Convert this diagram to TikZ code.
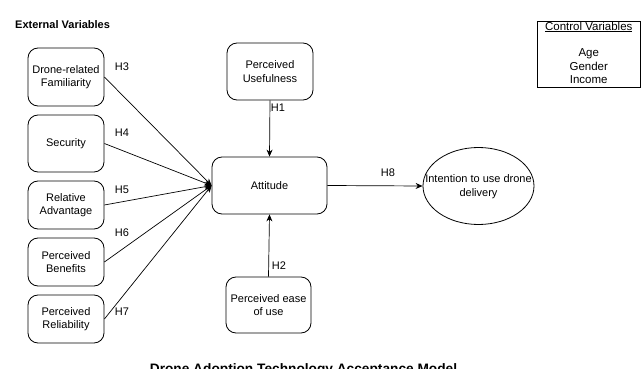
\documentclass[tikz,border=0pt]{standalone}
\usepackage{fontspec}
\setmainfont{Liberation Sans}
\usetikzlibrary{shapes.geometric,arrows.meta}
\begin{document}
\begin{tikzpicture}[x=1pt,y=-1pt,
  box/.style={draw, rounded corners=10pt, line width=0.8pt, align=center,
    font=\fontsize{11}{13.5}\selectfont, inner sep=0pt},
  lbl/.style={font=\fontsize{11}{13}\selectfont, inner sep=0pt},
  arr/.style={line width=0.7pt, -{Stealth[length=7pt,width=6pt]}}]
\useasboundingbox (0,0) rectangle (641,369);

\node[anchor=west, font=\bfseries\fontsize{11}{13}\selectfont, inner sep=0pt] (ext) at (15,25) {External Variables};

\node[box, minimum width=76pt, minimum height=58pt] (drf) at (66,77) {Drone-related\\Familiarity};
\node[box, minimum width=76pt, minimum height=57pt] (sec) at (66,143.5) {Security};
\node[box, minimum width=76pt, minimum height=48pt] (ra) at (66,205) {Relative\\Advantage};
\node[box, minimum width=76pt, minimum height=48pt] (pb) at (66,262) {Perceived\\Benefits};
\node[box, minimum width=76pt, minimum height=48pt] (pr) at (66,319) {Perceived\\Reliability};

\node[box, minimum width=86pt, minimum height=57pt] (pu) at (270,71.5) {Perceived\\Usefulness};
\node[box, minimum width=115pt, minimum height=57pt] (att) at (269.5,185.5) {Attitude};
\node[box, minimum width=85pt, minimum height=56pt] (peou) at (268.5,305) {Perceived ease\\of use};

\node[draw, ellipse, line width=0.8pt, minimum width=111pt, minimum height=77pt, inner sep=0pt] (int) at (478.5,186) {};
\node[align=center, inner sep=0pt, font=\fontsize{11}{14}\selectfont] (intt) at (478.5,187) {Intention to use drone\\delivery};

\node[draw, line width=0.8pt, minimum width=103.5pt, minimum height=66pt, inner sep=0pt] (cv) at (588.75,54) {};
\node[inner sep=0pt, align=center, font=\fontsize{11.5}{13.4}\selectfont, anchor=north] (cvt) at (588.75,21.5) {\underline{Control Variables}\\[13.4pt]Age\\Gender\\Income};

\draw[arr] (drf.east) -- (att.west);
\draw[arr] (sec.east) -- (att.west);
\draw[arr] (ra.east) -- (att.west);
\draw[arr] (pb.east) -- (att.west);
\draw[arr] (pr.east) -- (att.west);
\draw[arr] (pu.south) -- (att.north);
\draw[arr] (peou.north) -- (att.south);
\draw[arr] (att.east) -- (int.west);

\node[lbl] (h3) at (122,67) {H3};
\node[lbl] (h4) at (122,133) {H4};
\node[lbl] (h5) at (122,190) {H5};
\node[lbl] (h6) at (122,233) {H6};
\node[lbl] (h7) at (122,312) {H7};
\node[lbl] (h1) at (278,108) {H1};
\node[lbl] (h2) at (279,266) {H2};
\node[lbl] (h8) at (388,173) {H8};

\node[anchor=base, inner sep=0pt, font=\bfseries\fontsize{13.7}{16}\selectfont] (title) at (303.5,373) {Drone Adoption Technology Acceptance Model};
\end{tikzpicture}
\end{document}
